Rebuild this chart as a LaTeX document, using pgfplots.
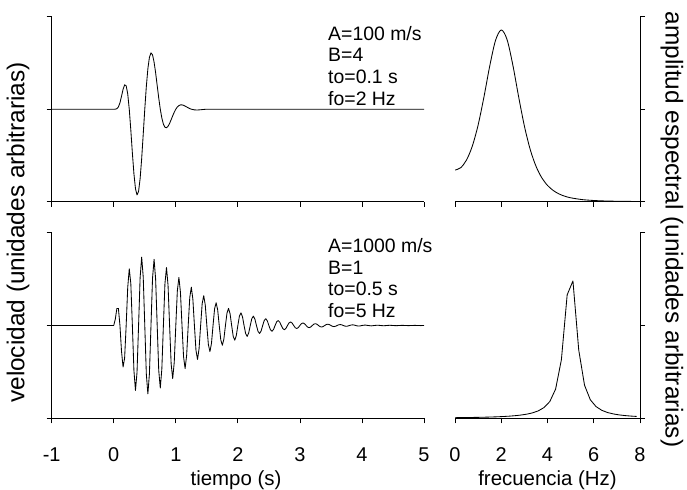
\documentclass[border=0pt]{standalone}
\usepackage{pgfplots}
\pgfplotsset{compat=1.18}
\usepackage{fontspec}
\setmainfont{Liberation Sans}
\newcommand\fs{\fontsize{19.5}{21.7}\selectfont}
\newcommand\ft{\fontsize{20}{24}\selectfont}
\newcommand\fl{\fontsize{20.5}{24}\selectfont}
\newcommand\fy{\fontsize{24.5}{28}\selectfont}
\begin{document}
\begin{tikzpicture}[x=1bp,y=1bp]
\useasboundingbox (0,0) rectangle (687,490);
\pgfplotsset{
  panel/.style={scale only axis, anchor=south west, tick align=outside,
    major tick length=5bp,
    axis line style={line width=0.8pt,black},
    tick style={line width=0.8pt,black},
    xticklabel style={font=\ft, inner sep=0pt, yshift=-24.5bp},
    yticklabels={}},
  sig/.style={black, line width=0.85pt, line join=round, mark=none}
}
% ---------- top left: signal 1 ----------
\begin{axis}[panel, at={(51.7bp,288.3bp)}, width=372.3bp, height=185bp,
  xmin=-1, xmax=5, ymin=-1.07, ymax=1.07,
  axis x line*=bottom, axis y line*=left,
  xtick={-1,0,1,2,3,4,5}, xticklabels={}, ytick={-1.07,0,1.07}]
\addplot[sig] coordinates {
(-1,0) (0,0) (0.025,0.0002) (0.05,0.0048) (0.075,0.0258) (0.1,0.0746) (0.125,0.1492)
(0.15,0.2291) (0.175,0.2812) (0.2,0.2715) (0.225,0.1780) (0.25,0) (0.275,-0.2409)
(0.3,-0.5056) (0.325,-0.7464) (0.35,-0.9192) (0.375,-0.9919) (0.4,-0.9511) (0.425,-0.8030)
(0.45,-0.5710) (0.475,-0.2903) (0.5,0) (0.525,0.2627) (0.55,0.4688) (0.575,0.6004)
(0.6,0.6515) (0.625,0.6282) (0.65,0.5444) (0.675,0.4194) (0.7,0.2745) (0.725,0.1293)
(0.75,0) (0.775,-0.1024) (0.8,-0.1723) (0.825,-0.2088) (0.85,-0.2155) (0.875,-0.1981)
(0.9,-0.1642) (0.925,-0.1214) (0.95,-0.0764) (0.975,-0.0347) (1,0) (1.025,0.0257)
(1.05,0.0419) (1.075,0.0494) (1.1,0.0496) (1.125,0.0444) (1.15,0.0359) (1.175,0.0260)
(1.2,0.0160) (1.225,0.0071) (1.25,0) (1.3,-0.0081) (1.35,-0.0092) (1.4,-0.0065)
(1.45,-0.0028) (1.5,0) (5,0)};
\end{axis}
% ---------- bottom left: signal 2 ----------
\begin{axis}[panel, at={(51.7bp,71.7bp)}, width=372.3bp, height=185.6bp,
  xmin=-1, xmax=5, ymin=-1.35, ymax=1.35,
  axis x line*=bottom, axis y line*=left,
  xtick={-1,0,1,2,3,4,5}, xticklabels={-1,0,1,2,3,4,5}, ytick={-1.35,0,1.35}]
\addplot[sig] coordinates {
(-1,0) (0,0) (0.025,0.0914) (0.05,0.2460) (0.075,0.2482) (0.1,0) (0.125,-0.3742) (0.15,-0.6041) (0.175,-0.4741)
(0.2,0) (0.225,0.5515) (0.25,0.8244) (0.275,0.6099) (0.3,0) (0.325,-0.6522) (0.35,-0.9449) (0.375,-0.6810)
(0.4,0) (0.425,0.6983) (0.45,0.9947) (0.475,0.7062) (0.5,0) (0.525,-0.7063) (0.55,-0.9953) (0.575,-0.6999)
(0.6,0) (0.625,0.6884) (0.65,0.9631) (0.675,0.6727) (0.7,0) (0.725,-0.6538) (0.75,-0.9098) (0.775,-0.6323)
(0.8,0) (0.825,0.6091) (0.85,0.8442) (0.875,0.5845) (0.9,0) (0.925,-0.5591) (0.95,-0.7725) (0.975,-0.5333)
(1.0,0) (1.025,0.5073) (1.05,0.6990) (1.075,0.4814) (1.1,0) (1.125,-0.4558) (1.15,-0.6268) (1.175,-0.4308)
(1.2,0) (1.225,0.4064) (1.25,0.5578) (1.275,0.3827) (1.3,0) (1.325,-0.3599) (1.35,-0.4932) (1.375,-0.3379)
(1.4,0) (1.425,0.3169) (1.45,0.4338) (1.475,0.2968) (1.5,0) (1.525,-0.2776) (1.55,-0.3796) (1.575,-0.2595)
(1.6,0) (1.625,0.2422) (1.65,0.3309) (1.675,0.2259) (1.7,0) (1.725,-0.2105) (1.75,-0.2873) (1.775,-0.1960)
(1.8,0) (1.825,0.1824) (1.85,0.2487) (1.875,0.1695) (1.9,0) (1.925,-0.1575) (1.95,-0.2146) (1.975,-0.1462)
(2.0,0) (2.025,0.1356) (2.05,0.1847) (2.075,0.1258) (2.1,0) (2.125,-0.1165) (2.15,-0.1586) (2.175,-0.1079)
(2.2,0) (2.225,0.0999) (2.25,0.1359) (2.275,0.0924) (2.3,0) (2.325,-0.0855) (2.35,-0.1162) (2.375,-0.0790)
(2.4,0) (2.425,0.0730) (2.45,0.0992) (2.475,0.0674) (2.5,0) (2.525,-0.0622) (2.55,-0.0845) (2.575,-0.0574)
(2.6,0) (2.625,0.0530) (2.65,0.0719) (2.675,0.0488) (2.7,0) (2.725,-0.0450) (2.75,-0.0611) (2.775,-0.0415)
(2.8,0) (2.825,0.0382) (2.85,0.0518) (2.875,0.0352) (2.9,0) (2.925,-0.0324) (2.95,-0.0439) (2.975,-0.0298)
(3.0,0) (3.025,0.0274) (3.05,0.0372) (3.075,0.0252) (3.1,0) (3.125,-0.0232) (3.15,-0.0315) (3.175,-0.0213)
(3.2,0) (3.225,0.0196) (3.25,0.0266) (3.275,0.0180) (3.3,0) (3.325,-0.0165) (3.35,-0.0224) (3.375,-0.0152)
(3.4,0) (3.425,0.0140) (3.45,0.0189) (3.475,0.0128) (3.5,0) (3.525,-0.0118) (3.55,-0.0159) (3.575,-0.0108)
(3.6,0) (3.625,0.0099) (3.65,0.0134) (3.675,0.0091) (3.7,0) (3.725,-0.0083) (3.75,-0.0113) (3.775,-0.0076)
(3.8,0) (3.825,0.0070) (3.85,0.0095) (3.875,0.0064) (3.9,0) (3.925,-0.0059) (3.95,-0.0080) (3.975,-0.0054)
(4.0,0) (4.05,0.0067) (4.1,0) (4.15,-0.0056) (4.2,0) (4.25,0.0047) (4.3,0) (4.35,-0.0039) (4.4,0)
(4.45,0.0033) (4.5,0) (4.55,-0.0028) (4.6,0) (4.65,0.0023) (4.7,0) (4.75,-0.0019) (4.8,0) (4.85,0.0016)
(4.9,0) (4.95,-0.0014) (5,0)};
\end{axis}
% ---------- top right: spectrum 1 ----------
\begin{axis}[panel, at={(455bp,288.3bp)}, width=185bp, height=185bp,
  xmin=0, xmax=8, ymin=0, ymax=1.07,
  axis x line*=bottom, axis y line*=right,
  xtick={0,2,4,6,8}, xticklabels={}, ytick={0,0.535,1.07}]
\addplot[sig, smooth] coordinates {
(0,0.1828) (0.25,0.1970) (0.5,0.2417) (0.75,0.3222) (1,0.4438) (1.25,0.6047) (1.5,0.7834)
(1.75,0.9323) (2,0.9935) (2.25,0.9380) (2.5,0.7907) (2.75,0.6078) (3,0.4376) (3.25,0.3029)
(3.5,0.2056) (3.75,0.1388) (4,0.0941) (4.25,0.0645) (4.5,0.0447) (4.75,0.0315) (5,0.0225)
(5.5,0.0121) (6,0.0069) (6.5,0.0041) (7,0.0026) (7.5,0.0017) (8,0.0011)};
\end{axis}
% ---------- bottom right: spectrum 2 ----------
\begin{axis}[panel, at={(455bp,71.7bp)}, width=185bp, height=185.6bp,
  xmin=0, xmax=8, ymin=0, ymax=1.23,
  axis x line*=bottom, axis y line*=right,
  xtick={0,2,4,6,8}, xticklabels={0,2,4,6,8}, ytick={0,0.615,1.23}]
\addplot[sig] coordinates {
(0,0.0040) (0.1,0.0042) (0.35,0.0047) (0.6,0.0052) (0.85,0.0059) (1.1,0.0066) (1.35,0.0076)
(1.6,0.0087) (1.85,0.0101) (2.1,0.0119) (2.35,0.0142) (2.6,0.0173) (2.85,0.0215) (3.1,0.0273)
(3.35,0.0359) (3.6,0.0492) (3.85,0.0712) (4.1,0.1112) (4.35,0.1934) (4.6,0.3877) (4.85,0.8183)
(5.1,0.9102) (5.35,0.4527) (5.6,0.2196) (5.85,0.1230) (6.1,0.0773) (6.35,0.0527) (6.6,0.0381)
(6.85,0.0288) (7.1,0.0225) (7.35,0.0180) (7.6,0.0148) (7.85,0.0123)};
\end{axis}
% ---------- titles and annotations ----------
\node[rotate=90, font=\fy, inner sep=0pt] at (18,257.5) {velocidad (unidades arbitrarias)};
\node[rotate=-90, font=\fy, inner sep=0pt] at (672,260.5) {amplitud espectral (unidades arbitrarias)};
\node[font=\fl, inner sep=0pt] at (236,10) {tiempo (s)};
\node[font=\fl, inner sep=0pt] at (547.5,10) {frecuencia (Hz)};
\node[font=\fs, align=left, anchor=north west, inner sep=0pt] at (328,464)
  {A=100 m/s\\B=4\\to=0.1 s\\fo=2 Hz};
\node[font=\fs, align=left, anchor=north west, inner sep=0pt] at (328,251.7)
  {A=1000 m/s\\B=1\\to=0.5 s\\fo=5 Hz};
\end{tikzpicture}
\end{document}
